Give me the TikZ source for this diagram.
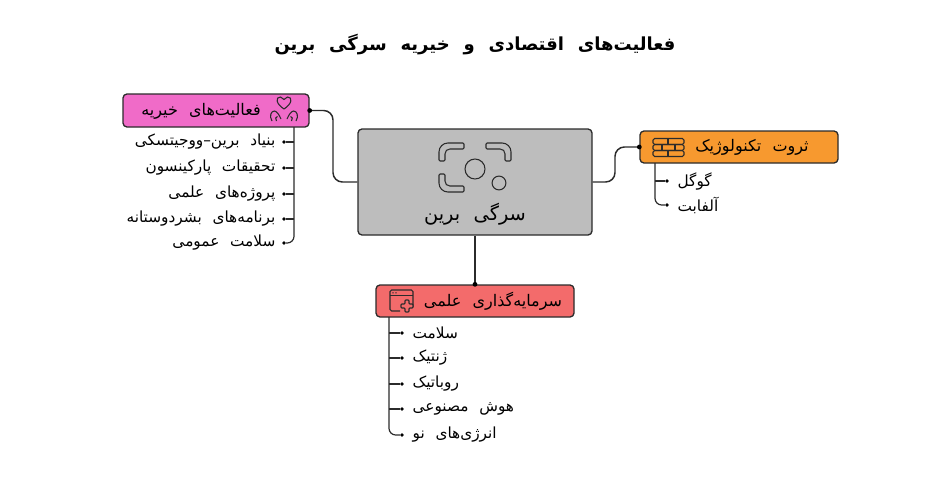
\documentclass[tikz,border=0pt]{standalone}
\usepackage{fontspec}
\usepackage{tikz}
\usetikzlibrary{positioning,shapes.geometric}
\newfontfamily\arabicfont[Script=Arabic, WordSpace=2.2]{DejaVu Sans}
\TeXXeTstate=1
\definecolor{charitypink}{HTML}{F06BC8}
\definecolor{techorange}{HTML}{F7992F}
\definecolor{sciencered}{HTML}{F36B6B}
\definecolor{bringray}{HTML}{BDBDBD}
\definecolor{edgegray}{HTML}{2B2B2B}
\newcommand{\fa}[1]{\beginR #1\endR}

\begin{document}
\begin{tikzpicture}[
x=0.75pt, y=-0.75pt,
font=\arabicfont\fontsize{11.5}{13}\selectfont,
box/.style={draw=edgegray, rounded corners=3pt, line width=1pt, inner sep=0pt},
boxlbl/.style={font=\arabicfont\fontsize{12}{14}\selectfont},
link/.style={draw=edgegray, line width=1.1pt, rounded corners=7pt},
tick/.style={draw=edgegray, line width=0.8pt},
dot/.style={circle, fill=black, inner sep=0pt, minimum size=3.6pt},
item/.style={inner sep=1pt},
icon/.style={draw=edgegray, line width=0.8pt}]
    \useasboundingbox (0,0) rectangle (950,500);

    % title
    \node (title) at (475,45) {\bfseries\fontsize{13.5}{15}\selectfont\fa{فعالیت‌های اقتصادی و خیریه سرگی برین}};

    % boxes
    \node[box, fill=bringray, minimum width=175.5pt, minimum height=79.5pt] (brin) at (475,182) {};
    \node[box, fill=charitypink, minimum width=139.5pt, minimum height=24.75pt] (charity) at (216,110.5) {};
    \node[box, fill=techorange, minimum width=148.5pt, minimum height=24pt] (tech) at (739,147) {};
    \node[box, fill=sciencered, minimum width=148.5pt, minimum height=24pt] (science) at (475,301) {};

    \node (brinlbl) at (475,214) {\fontsize{14.5}{17}\selectfont\fa{سرگی برین}};
    \node[boxlbl] (charitylbl) at (201,111) {\fa{فعالیت‌های خیریه}};
    \node[boxlbl] (techlbl) at (752,147) {\fa{ثروت تکنولوژیک}};
    \node[boxlbl] (sciencelbl) at (493,301) {\fa{سرمایه‌گذاری علمی}};

    % links to the center
    \draw[link] (charity.east) -- (333,110.5) -- (333,182) -- (brin.west);
    \draw[link] (brin.east) -- (615,182) -- (615,147) -- (tech.west);
    \draw[link] (brin.south) -- (science.north);
    \node[dot] at (charity.east) {};
    \node[dot] at (tech.west) {};
    \node[dot] at (science.north) {};

    % face icon
    \begin{scope}[icon]
      \foreach \sx/\sy/\px/\py in {1/1/439/143, -1/1/511/143, 1/-1/439/192}
        \draw[shift={(\px,\py)}, xscale=\sx, yscale=\sy, rounded corners=0.8pt]
          (0,18) -- (0,10) .. controls (0,4) and (4,0) .. (10,0) -- (25,0) -- (25,6)
          -- (12,6) .. controls (8,6) and (6,8) .. (6,12) -- (6,18) -- cycle;
      \draw (475,169) circle (7.5pt);
      \draw (499,183) circle (5.2pt);
    \end{scope}

    % heart icon
    \begin{scope}[icon]
      \draw (284,109) .. controls (276,104) and (275,97) .. (280.5,97)
        .. controls (282.5,97.3) .. (284,99.5) .. controls (285.5,97.3) .. (287.5,97)
        .. controls (293,97) and (292,104) .. (284,109);
      \draw (272,121) .. controls (269,116) and (271,111) .. (274.5,111)
        .. controls (277,111.5) and (279,114.5) .. (281,119);
      \draw (276.5,121) .. controls (275,119) and (275.5,116.5) .. (277.5,116.5);
      \draw (296,121) .. controls (299,116) and (297,111) .. (293.5,111)
        .. controls (291,111.5) and (289,114.5) .. (287,119);
      \draw (291.5,121) .. controls (293,119) and (292.5,116.5) .. (290.5,116.5);
    \end{scope}

    % stack icon
    \begin{scope}[icon]
      \foreach \ly in {138.5,144.5,150.5}
        \draw[rounded corners=1.2pt] (653,\ly) rectangle (684,\ly+6);
      \draw (668,138.5) -- (668,144.5);
      \draw (662,144.5) -- (662,150.5);
      \draw (675,144.5) -- (675,150.5);
      \draw (668,150.5) -- (668,156.5);
    \end{scope}

    % window icon
    \begin{scope}[icon]
      \draw[rounded corners=1.2pt] (413,307) -- (413,290) -- (390,290) -- (390,311) -- (400,311);
      \draw (390,295.5) -- (413,295.5);
      \fill[edgegray] (393,292.8) circle (0.6pt) (396,292.8) circle (0.6pt);
      \draw[fill=sciencered, rounded corners=0.6pt] (405,300) -- (409,300) -- (409,304) -- (413,304)
        -- (413,308) -- (409,308) -- (409,312) -- (405,312) -- (405,308) -- (401,308)
        -- (401,304) -- (405,304) -- cycle;
    \end{scope}

    % charity list
    \coordinate (cspine) at (294,127);
    \foreach \i/\yy/\txt in {1/142/{بنیاد برین–ووجیتسکی}, 2/168/{تحقیقات پارکینسون},
        3/194/{پروژه‌های علمی}, 4/219/{برنامه‌های بشردوستانه}, 5/243/{سلامت عمومی}} {
      \node[dot, minimum size=2.8pt] (cd\i) at (284,\yy) {};
      \node[item, anchor=east] (c\i) at (277,\yy) {\fa{\txt}};
    }
    \draw[link, line width=0.9pt, rounded corners=5pt] (cspine) |- (cd5);
    \foreach \i in {1,...,4}
      \draw[tick] (cd\i) -- (cd\i -| cspine);

    % tech list
    \coordinate (tspine) at (655,163);
    \foreach \i/\yy/\txt in {1/181/{گوگل}, 2/205/{آلفابت}} {
      \node[dot, minimum size=2.8pt] (td\i) at (667,\yy) {};
      \node[item, anchor=west] (t\i) at (676,\yy) {\fa{\txt}};
    }
    \draw[link, line width=0.9pt, rounded corners=5pt] (tspine) |- (td2);
    \draw[tick] (td1) -- (td1 -| tspine);

    % science list
    \coordinate (sspine) at (389,317);
    \foreach \i/\yy/\txt in {1/333/{سلامت}, 2/358/{ژنتیک}, 3/384/{روباتیک},
        4/409/{هوش مصنوعی}, 5/435/{انرژی‌های نو}} {
      \node[dot, minimum size=2.8pt] (sd\i) at (402,\yy) {};
      \node[item, anchor=west] (s\i) at (411,\yy) {\fa{\txt}};
    }
    \draw[link, line width=0.9pt, rounded corners=5pt] (sspine) |- (sd5);
    \foreach \i in {1,...,4}
      \draw[tick] (sd\i) -- (sd\i -| sspine);

\end{tikzpicture}
\end{document}
